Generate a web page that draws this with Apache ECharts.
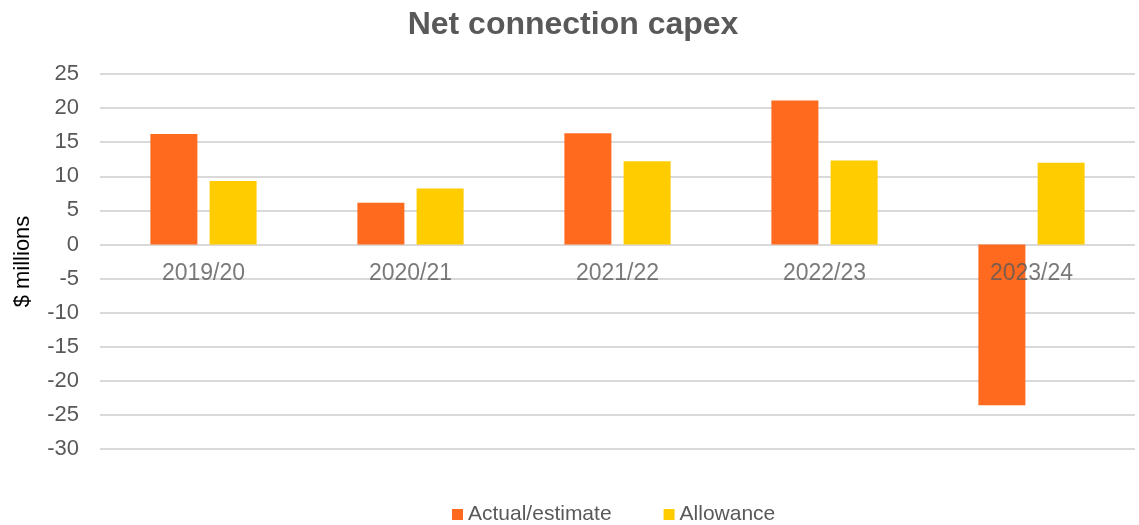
<!DOCTYPE html>
<html>
<head>
<meta charset="utf-8">
<script src="https://cdn.jsdelivr.net/npm/echarts@6/dist/echarts.min.js"></script>
<style>
  html, body { margin: 0; padding: 0; background: #fff; }
  #chart { width: 1139px; height: 525px; }
</style>
</head>
<body>
<div id="chart"></div>
<script>
// Net connection capex, $ millions
const categories = ['2019/20', '2020/21', '2021/22', '2022/23', '2023/24'];
const actualEstimate = [16.2, 6.1, 16.3, 21.1, -23.6];
const allowance = [9.3, 8.2, 12.2, 12.3, 12.0];
const yTicks = { min: -30, max: 25, interval: 5 };

const textColor = '#595959';
const gridColor = '#d9d9d9';
const fontFamily = 'Liberation Sans, Arial, sans-serif';

const chart = echarts.init(document.getElementById('chart'));
chart.setOption({
  animation: false,
  backgroundColor: '#ffffff',
  title: {
    text: 'Net connection capex',
    left: 568,
    textAlign: 'center',
    top: 4,
    textStyle: { color: textColor, fontSize: 32, fontWeight: 'bold', fontFamily }
  },
  legend: {
    top: 499,
    left: 447,
    itemWidth: 11,
    itemHeight: 11,
    itemGap: 52,
    icon: 'rect',
    textStyle: { color: textColor, fontSize: 21, fontFamily },
    data: ['Actual/estimate', 'Allowance']
  },
  grid: { left: 100, right: 4, top: 74, bottom: 76, outerBoundsMode: 'none', containLabel: false },
  xAxis: {
    type: 'category',
    data: categories,
    axisLine: { show: false },
    axisTick: { show: false },
    axisLabel: { show: false }
  },
  yAxis: {
    type: 'value',
    min: yTicks.min,
    max: yTicks.max,
    interval: yTicks.interval,
    name: '$ millions',
    nameLocation: 'middle',
    nameGap: 66,
    nameRotate: 90,
    nameTextStyle: { color: '#000', fontSize: 22, fontFamily },
    axisLine: { show: false },
    axisTick: { show: false },
    axisLabel: { color: textColor, fontSize: 22, fontFamily, margin: 21 },
    splitLine: { lineStyle: { color: gridColor, width: 2 } }
  },
  series: [
    {
      name: 'Actual/estimate',
      type: 'bar',
      data: actualEstimate,
      barWidth: 47,
      barGap: '26%',
      itemStyle: { color: '#ff6a1f' }
    },
    {
      name: 'Allowance',
      type: 'bar',
      data: allowance,
      barWidth: 47,
      itemStyle: { color: '#ffcc00' }
    },
    {
      // category names sit just under the zero line
      name: 'category labels',
      type: 'scatter',
      silent: true,
      symbolSize: 0,
      z: 5,
      data: categories.map(c => [c, 0]),
      label: {
        show: true,
        position: 'bottom',
        distance: 18,
        color: textColor,
        fontSize: 23,
        fontFamily,
        formatter: p => p.value[0]
      }
    }
  ]
});
</script>
</body>
</html>
